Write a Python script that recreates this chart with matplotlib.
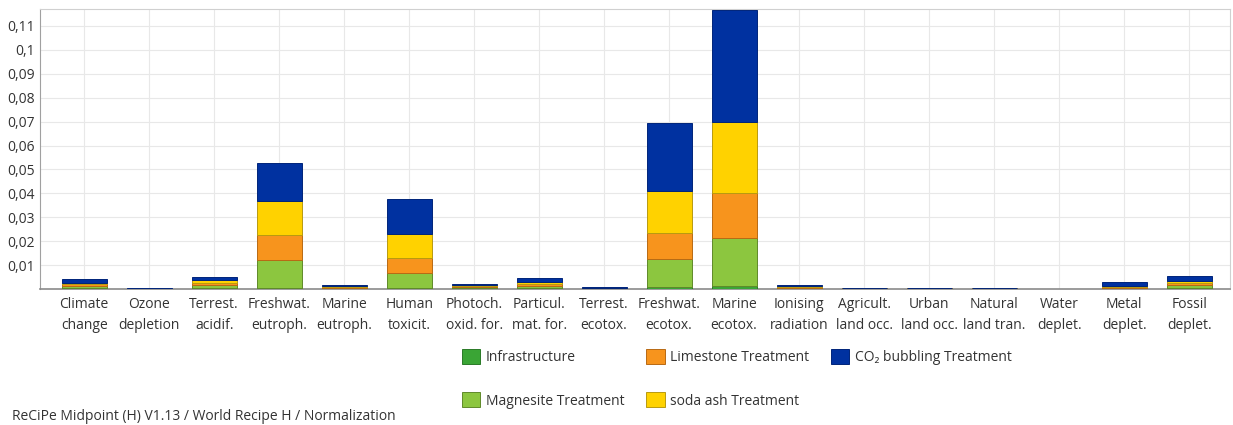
import numpy as np
import matplotlib
matplotlib.use("Agg")
import matplotlib.pyplot as plt
from matplotlib.ticker import FixedLocator, FuncFormatter

plt.rcParams['font.family'] = ['Open Sans', 'DejaVu Sans']

categories = [
    "Climate\nchange", "Ozone\ndepletion", "Terrest.\nacidif.", "Freshwat.\neutroph.",
    "Marine\neutroph.", "Human\ntoxicit.", "Photoch.\noxid. for.", "Particul.\nmat. for.",
    "Terrest.\necotox.", "Freshwat.\necotox.", "Marine\necotox.", "Ionising\nradiation",
    "Agricult.\nland occ.", "Urban\nland occ.", "Natural\nland tran.", "Water\ndeplet.",
    "Metal\ndeplet.", "Fossil\ndeplet.",
]

infrastructure = [0.0004, 0.00005, 0.0006, 0.0005, 0.0003, 0.0005, 0.0004, 0.0004, 0.00015,
                  0.0007, 0.0012, 0.0003, 0.0001, 0.0001, 0.0001, 0.0, 0.0003, 0.0006]
magnesite = [0.0008, 0.00005, 0.0011, 0.0115, 0.0003, 0.0064, 0.0004, 0.0009, 0.00015,
             0.0118, 0.0202, 0.0003, 0.0001, 0.0001, 0.0001, 0.0, 0.0003, 0.0010]
limestone = [0.0007, 0.00005, 0.0010, 0.0105, 0.0003, 0.0062, 0.0004, 0.0008, 0.00015,
             0.0110, 0.0189, 0.0003, 0.0001, 0.0001, 0.0001, 0.0, 0.0003, 0.0009]
soda_ash = [0.0006, 0.00005, 0.0009, 0.0143, 0.0003, 0.0099, 0.0004, 0.0009, 0.00015,
            0.0176, 0.0297, 0.0003, 0.0001, 0.0001, 0.0001, 0.0, 0.0003, 0.0009]
co2_bubbling = [0.0018, 0.00005, 0.0016, 0.0158, 0.0003, 0.0145, 0.0005, 0.0018, 0.00015,
                0.0285, 0.0467, 0.0003, 0.0001, 0.0001, 0.0001, 0.0, 0.0016, 0.0020]

series = [
    ("Infrastructure", infrastructure, "#3aa535", "#2a7a27"),
    ("Magnesite Treatment", magnesite, "#8cc63f", "#5f8a2a"),
    ("Limestone Treatment", limestone, "#f7941d", "#b86a14"),
    ("soda ash Treatment", soda_ash, "#ffd200", "#b89a10"),
    ("CO\u2082 bubbling Treatment", co2_bubbling, "#0031a0", "#00247a"),
]

yticks = [0.01, 0.02, 0.03, 0.04, 0.05, 0.06, 0.07, 0.08, 0.09, 0.10, 0.11]

fig = plt.figure(figsize=(12.33, 4.25), dpi=100)
ax = fig.add_axes([0.0324, 0.32, 0.9652, 0.6588])

x = np.arange(len(categories))
bottom = np.zeros(len(categories))
handles = []
for label, vals, color, edge in series:
    vals = np.asarray(vals)
    b = ax.bar(x, vals, width=0.69, bottom=bottom, color=color, edgecolor=edge,
               linewidth=0.7, label=label, zorder=3)
    handles.append(b)
    bottom += vals

ax.set_xlim(-0.68, len(categories) - 1 + 0.63)
ax.set_ylim(0, 0.1171)

ax.set_xticks(x)
ax.set_xticklabels(categories, fontsize=10, color="#333333", linespacing=1.55)
ax.yaxis.set_major_locator(FixedLocator(yticks))
ax.yaxis.set_major_formatter(FuncFormatter(lambda v, p: f"{v:.2f}".rstrip("0").replace(".", ",")))
ax.tick_params(axis="both", length=0, labelsize=10, labelcolor="#333333")
ax.tick_params(axis="x", pad=6)
ax.tick_params(axis="y", pad=4)

ax.grid(True, color="#e8e8e8", linewidth=0.8, zorder=0)
ax.set_axisbelow(True)
for side in ["top", "right"]:
    ax.spines[side].set_color("#d0d0d0")
ax.spines["left"].set_color("#a0a0a0")
ax.spines["bottom"].set_color("#8a8a8a")
ax.spines["bottom"].set_linewidth(1.2)

leg = fig.legend(handles=handles, labels=[s[0] for s in series], ncol=3,
                 loc="upper left", bbox_to_anchor=(462 / 1233, 1 - 349 / 425),
                 frameon=False, fontsize=10, handlelength=1.3, handleheight=1.3,
                 handletextpad=0.4, columnspacing=1.6, labelspacing=1.95,
                 borderaxespad=0, borderpad=0)
for t in leg.get_texts():
    t.set_color("#333333")

fig.text(12 / 1233, 1 - 416 / 425, "ReCiPe Midpoint (H) V1.13 / World Recipe H / Normalization",
         fontsize=10, color="#333333", va="center", ha="left")

fig.savefig("out.png", dpi=100, facecolor="white")
